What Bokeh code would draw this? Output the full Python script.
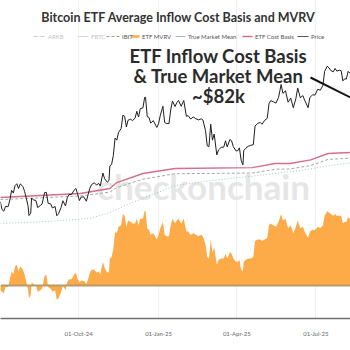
import pandas as pd
from bokeh.plotting import figure
from bokeh.models import Range1d, FixedTicker, DatetimeTickFormatter, Label, Span
from bokeh.embed import file_html
from bokeh.resources import INLINE
from bokeh.core.properties import value

# ---------------- data ----------------
dates = [
    "2024-07-03", "2024-07-05", "2024-07-07", "2024-07-09", "2024-07-12", "2024-07-14", "2024-07-16",
    "2024-07-18", "2024-07-20", "2024-07-22", "2024-07-24", "2024-07-26", "2024-07-29", "2024-07-31",
    "2024-08-02", "2024-08-04", "2024-08-05", "2024-08-07", "2024-08-08", "2024-08-10", "2024-08-13",
    "2024-08-15", "2024-08-18", "2024-08-20", "2024-08-23", "2024-08-25", "2024-08-27", "2024-08-30",
    "2024-09-01", "2024-09-04", "2024-09-06", "2024-09-08", "2024-09-11", "2024-09-13", "2024-09-16",
    "2024-09-18", "2024-09-20", "2024-09-23", "2024-09-26", "2024-09-28", "2024-09-30",
    "2024-10-02", "2024-10-04", "2024-10-07", "2024-10-10", "2024-10-12", "2024-10-14", "2024-10-16",
    "2024-10-19", "2024-10-22", "2024-10-24", "2024-10-26", "2024-10-29", "2024-10-31",
    "2024-11-03", "2024-11-05", "2024-11-06", "2024-11-08", "2024-11-10", "2024-11-12", "2024-11-14",
    "2024-11-16", "2024-11-19", "2024-11-21", "2024-11-23", "2024-11-25", "2024-11-27", "2024-11-30",
    "2024-12-02", "2024-12-05", "2024-12-07", "2024-12-09", "2024-12-11", "2024-12-14", "2024-12-16",
    "2024-12-17", "2024-12-19", "2024-12-21", "2024-12-23", "2024-12-26", "2024-12-28", "2024-12-30",
    "2025-01-01", "2025-01-03", "2025-01-06", "2025-01-08", "2025-01-10", "2025-01-13", "2025-01-15",
    "2025-01-17", "2025-01-20", "2025-01-22", "2025-01-24", "2025-01-27", "2025-01-30",
    "2025-02-02", "2025-02-04", "2025-02-07", "2025-02-10", "2025-02-13", "2025-02-16", "2025-02-19",
    "2025-02-21", "2025-02-24", "2025-02-26", "2025-02-28",
    "2025-03-02", "2025-03-04", "2025-03-06", "2025-03-09", "2025-03-11", "2025-03-14", "2025-03-17",
    "2025-03-19", "2025-03-21", "2025-03-24", "2025-03-26", "2025-03-28", "2025-03-31",
    "2025-04-02", "2025-04-04", "2025-04-06", "2025-04-08", "2025-04-09", "2025-04-11", "2025-04-14",
    "2025-04-17", "2025-04-20", "2025-04-22", "2025-04-25", "2025-04-28", "2025-04-30",
    "2025-05-03", "2025-05-06", "2025-05-08", "2025-05-10", "2025-05-13", "2025-05-16", "2025-05-19",
    "2025-05-22", "2025-05-24", "2025-05-27", "2025-05-30",
    "2025-06-02", "2025-06-05", "2025-06-08", "2025-06-10", "2025-06-13", "2025-06-16", "2025-06-18",
    "2025-06-22", "2025-06-24", "2025-06-27", "2025-06-30",
    "2025-07-03", "2025-07-06", "2025-07-09", "2025-07-11", "2025-07-14", "2025-07-16", "2025-07-18",
    "2025-07-21", "2025-07-23", "2025-07-25", "2025-07-28", "2025-07-30",
    "2025-08-01", "2025-08-03", "2025-08-05", "2025-08-07", "2025-08-09", "2025-08-11",
]

price_k = [
    60.2, 56.6, 55.9, 58.0, 57.9, 60.8, 65.1, 63.9, 67.2, 68.0, 65.9, 67.9, 66.8, 64.6,
    61.4, 58.1, 54.0, 55.0, 61.7, 60.9, 60.6, 57.5, 58.4, 59.0, 64.1, 64.2, 59.4, 59.1,
    57.3, 58.0, 53.9, 54.8, 57.6, 60.5, 58.2, 61.8, 63.2, 63.3, 65.2, 65.9, 63.3,
    60.6, 62.1, 62.2, 60.3, 63.2, 66.0, 67.6, 68.4, 67.4, 68.2, 67.0, 72.7, 70.2,
    68.7, 69.4, 75.9, 76.5, 80.4, 88.1, 87.2, 90.6, 92.3, 98.2, 97.7, 93.0, 96.0, 96.4,
    95.8, 96.9, 99.9, 97.4, 101.1, 101.4, 106.0, 106.1, 97.5, 97.2, 94.7, 95.8, 94.3, 92.8,
    94.4, 98.1, 102.1, 95.0, 94.5, 94.5, 100.5, 104.4, 102.0, 103.7, 104.7, 102.1, 104.7,
    97.7, 98.0, 96.5, 97.4, 96.6, 96.1, 96.6, 96.1, 91.4, 84.7, 84.4,
    94.2, 87.2, 89.9, 80.7, 82.9, 84.0, 84.1, 86.9, 84.2, 87.5, 86.9, 84.3, 82.5,
    82.5, 83.8, 78.3, 76.3, 82.6, 83.5, 84.5, 84.9, 85.2, 93.4, 94.6, 95.0, 94.2,
    95.9, 96.8, 103.2, 104.6, 104.1, 103.5, 106.0, 111.7, 107.8, 108.9, 103.9,
    105.7, 101.5, 105.6, 110.2, 105.9, 106.8, 104.8, 101.5, 106.0, 107.1, 107.1,
    109.6, 109.2, 111.3, 117.5, 119.8, 119.0, 117.9, 117.3, 118.8, 117.6, 118.0, 117.8,
    113.3, 114.2, 114.1, 117.5, 116.7, 118.7,
]

etf_mvrv = [
    0.97, 0.96, 0.95, 0.99, 0.99, 1.04, 1.09, 1.07, 1.12, 1.13, 1.09, 1.12, 1.10, 1.07,
    1.02, 0.97, 0.92, 0.94, 1.02, 1.01, 1.00, 0.96, 0.97, 0.98, 1.06, 1.07, 0.99, 0.98,
    0.96, 0.97, 0.91, 0.92, 0.96, 1.00, 0.97, 1.02, 1.04, 1.04, 1.07, 1.08, 1.04,
    1.02, 1.03, 1.03, 1.01, 1.04, 1.08, 1.10, 1.10, 1.08, 1.09, 1.07, 1.15, 1.11,
    1.08, 1.09, 1.17, 1.18, 1.23, 1.34, 1.33, 1.37, 1.38, 1.45, 1.44, 1.37, 1.41, 1.40,
    1.39, 1.39, 1.42, 1.38, 1.42, 1.42, 1.47, 1.47, 1.36, 1.35, 1.32, 1.33, 1.31, 1.29,
    1.32, 1.36, 1.40, 1.32, 1.31, 1.31, 1.38, 1.42, 1.39, 1.41, 1.42, 1.39, 1.42,
    1.34, 1.34, 1.32, 1.33, 1.32, 1.31, 1.32, 1.31, 1.26, 1.18, 1.17,
    1.29, 1.21, 1.24, 1.13, 1.16, 1.17, 1.17, 1.20, 1.17, 1.21, 1.20, 1.17, 1.15,
    1.15, 1.16, 1.10, 1.09, 1.15, 1.16, 1.17, 1.17, 1.18, 1.28, 1.29, 1.29, 1.28,
    1.29, 1.30, 1.38, 1.39, 1.38, 1.37, 1.40, 1.45, 1.41, 1.42, 1.36,
    1.38, 1.33, 1.37, 1.41, 1.36, 1.37, 1.34, 1.30, 1.34, 1.35, 1.35,
    1.37, 1.36, 1.38, 1.44, 1.47, 1.46, 1.45, 1.44, 1.45, 1.44, 1.44, 1.44,
    1.39, 1.40, 1.40, 1.43, 1.42, 1.44,
]

cost_dates = ["2024-07-03", "2024-10-03", "2024-11-06", "2024-11-14", "2024-12-14", "2025-01-20",
              "2025-04-19", "2025-05-15", "2025-06-01", "2025-06-25", "2025-07-15", "2025-08-11"]
etf_cost_basis_k = [61.9, 63.7, 65.9, 68.5, 72.5, 74.7, 75.1, 76.9, 76.9, 78.5, 81.3, 81.8]
ibit_cost_basis_k = [61.0, 62.6, 64.3, 66.3, 70.0, 72.4, 72.7, 74.4, 74.5, 76.0, 78.7, 79.3]

tmm_dates = ["2024-07-03", "2024-08-29", "2024-10-14", "2024-11-06", "2024-11-29", "2024-12-22",
             "2025-01-20", "2025-03-13", "2025-04-16", "2025-05-15", "2025-06-13", "2025-07-17",
             "2025-08-11"]
true_market_mean_k = [50.5, 51.4, 52.7, 55.3, 59.3, 62.8, 67.2, 69.9, 71.2, 72.5, 73.8, 76.0, 77.3]

tick_dates = ["2024-07-01", "2024-10-01", "2025-01-01", "2025-04-01", "2025-07-01"]

title_text = "Bitcoin ETF Average Inflow Cost Basis and MVRV"
annotation_lines = ["ETF Inflow Cost Basis", "& True Market Mean", "~$82k"]

# ---------------- figure ----------------
x = pd.to_datetime(dates)
xc = pd.to_datetime(cost_dates)
xt = pd.to_datetime(tmm_dates)

FONT = "Lato"

p = figure(
    frame_width=350, frame_height=318,
    x_axis_type="datetime",
    x_range=Range1d(pd.Timestamp("2024-07-03 06:00"), pd.Timestamp("2025-08-09 18:00")),
    y_range=Range1d(8.63, 148.71),
    y_axis_location=None,
    output_backend="svg", toolbar_location=None,
    min_border_left=0, min_border_right=0, min_border_top=0, min_border_bottom=32,
    background_fill_color="white", border_fill_color="white",
)
p.outline_line_color = None
p.extra_y_ranges = {"mvrv": Range1d(0.792, 2.796), "py": Range1d(318, 0)}
p.extra_x_ranges = {"px": Range1d(0, 350)}

ticks = [pd.Timestamp(d).value // 10**6 for d in tick_dates]
p.xaxis.ticker = FixedTicker(ticks=ticks)
fmt = "%d-%b-%y"
p.xaxis.formatter = DatetimeTickFormatter(days=fmt, months=fmt, years=fmt, hours=fmt,
                                          minutes=fmt, seconds=fmt, milliseconds=fmt, microseconds=fmt)
p.xaxis.major_tick_line_color = None
p.xaxis.minor_tick_line_color = None
p.xaxis.axis_line_color = "#6f6f6f"
p.xaxis.axis_line_width = 1.5
p.xaxis.major_label_text_font = FONT
p.xaxis.major_label_text_font_size = "6px"
p.xaxis.major_label_text_color = "#666666"
p.xaxis.major_label_standoff = 5
p.xgrid.ticker = FixedTicker(ticks=ticks)
p.xgrid.grid_line_color = "#f0f0f0"
p.ygrid.grid_line_color = None

# watermark
p.add_layout(Label(x=203, y=185, x_range_name="px", y_range_name="py", text="checkonchain",
                   text_font=FONT, text_font_style="bold", text_font_size="35px",
                   text_color="#e6e6e6", text_align="center", text_baseline="middle",
                   level="underlay"))

# ETF MVRV area around 1
p.varea(x=x, y1=[1.0] * len(x), y2=etf_mvrv, fill_color="#fdaa48", y_range_name="mvrv")
p.add_layout(Span(location=1.0, dimension="width", y_range_name="mvrv",
                  line_color="#b99a6a", line_width=2))

# lines
p.line(xt, true_market_mean_k, line_color="#a3c4c2", line_width=1, line_dash="1 2")
p.line(xc, ibit_cost_basis_k, line_color="#a8a8a8", line_width=1, line_dash="3 2")
p.line(xc, etf_cost_basis_k, line_color="#d46e8b", line_width=1.4)
p.line(x, price_k, line_color="#1e1e1e", line_width=1.0)

# title
p.add_layout(Label(x=178, y=17, x_range_name="px", y_range_name="py", text=title_text,
                   text_font=FONT, text_font_style="bold", text_font_size="12.5px",
                   text_color="#333333", text_align="center", text_baseline="middle"))

# legend (drawn in pixel space)
leg_y = 36
legend_items = [
    (33, 45, "#cfcfcf", 1, "4 1 1 1", "ARKB", "#c4c4c4"),
    (77, 88, "#d8d8d8", 1, "solid", "FBTC", "#c4c4c4"),
    (106, 119, "#9a9a9a", 1, "3 2", "IBIT", "#555555"),
    (131, 139, "#fdaa48", 2.5, "solid", "ETF MVRV", "#555555"),
    (175, 185, "#a3b8b8", 1, "solid", "True Market Mean", "#555555"),
    (242, 252, "#d46e8b", 1.4, "solid", "ETF Cost Basis", "#555555"),
    (297, 308, "#555555", 1.2, "solid", "Price", "#555555"),
]
for x0, x1, col, w, dash, lab, tcol in legend_items:
    p.segment(x0=[x0], y0=[leg_y], x1=[x1], y1=[leg_y], line_color=col, line_width=w,
              line_dash=dash, x_range_name="px", y_range_name="py")
    p.add_layout(Label(x=x1 + 2.5, y=leg_y, x_range_name="px", y_range_name="py", text=lab,
                       text_font=FONT, text_font_size="6px", text_color=tcol,
                       text_align="left", text_baseline="middle"))

# annotation
for i, t in enumerate(annotation_lines):
    p.add_layout(Label(x=218, y=55 + 20 * i, x_range_name="px", y_range_name="py", text=t,
                       text_font=FONT, text_font_style="bold", text_font_size="18.5px",
                       text_color="#2b2b2b", text_align="center", text_baseline="middle"))
p.segment(x0=[310], y0=[77], x1=[352], y1=[98], line_color="#111111", line_width=2,
          x_range_name="px", y_range_name="py")

open("out.html", "w").write(file_html(p, INLINE))
